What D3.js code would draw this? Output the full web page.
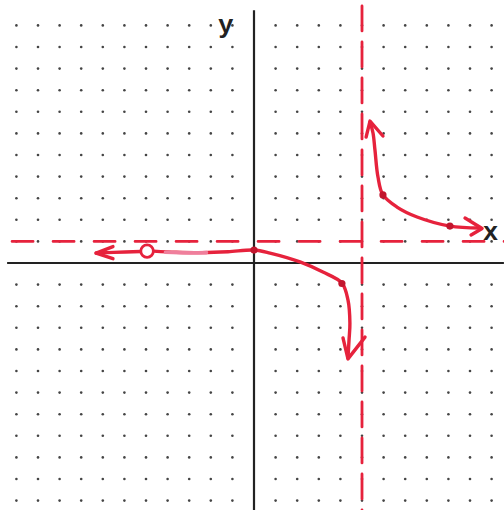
<!DOCTYPE html>
<html>
<head>
<meta charset="utf-8">
<script src="https://cdn.jsdelivr.net/npm/d3@7"></script>
<style>
  html, body { margin: 0; padding: 0; background: #fff; }
  svg { display: block; }
</style>
</head>
<body>
<svg id="chart" width="504" height="510"></svg>
<script>
// Grid extent (integer lattice of dots) and axis extents, in graph units
const gridMin = -11, gridMax = 11;
const xAxisSpan = [-11.43, 11.57];
const yAxisSpan = [-11.45, 11.7];

// Asymptotes
const vAsymptoteX = 5;
const hAsymptoteY = 1;

// Hand-drawn branches of the curve
const leftBranch = [[-7.31, 0.46], [-6.5, 0.49], [-5.25, 0.53]];
const holePoint = [-4.95, 0.55];
const middleBranch = [[-4.65, 0.55], [-3.6, 0.5], [-2.4, 0.48], [-1.2, 0.52], [0, 0.6],
                      [0.74, 0.46], [2.13, 0.05], [3.19, -0.42], [4.07, -0.93],
                      [4.35, -1.71], [4.44, -2.78], [4.4, -3.56], [4.35, -4.4]];
const fadedSegment = [[-4.1, 0.5], [-3.0, 0.47], [-2.2, 0.48]];
const rightBranch = [[5.37, 6.53], [5.51, 6.02], [5.6, 5.23], [5.74, 3.98], [5.97, 3.15],
                     [6.62, 2.59], [7.55, 2.13], [9.07, 1.71], [10.46, 1.62]];

// Plotted points on the curve
const plottedPoints = [[0, 0.6], [4.07, -0.95], [5.97, 3.15], [9.07, 1.71]];

// Open arrowheads: arm, tip, arm
const arrowHeads = [
  [[-6.53, 0.76], [-7.31, 0.46], [-6.53, 0.2]],
  [[4.12, -3.47], [4.35, -4.44], [5.14, -3.43]],
  [[5.19, 5.83], [5.37, 6.57], [5.97, 5.88]],
  [[9.77, 2.08], [10.56, 1.6], [10.05, 1.3]]
];

const axisLabels = [
  { text: "y", at: [-1.3, 10.65] },
  { text: "x", at: [10.95, 1.06] }
];

const svg = d3.select("#chart");
const x = d3.scaleLinear().domain([gridMin, gridMax]).range([16.4, 491.6]);
const y = d3.scaleLinear().domain([gridMin, gridMax]).range([500.6, 25.4]);

const red = "#e6223c";

// Dot grid
const dots = [];
for (let i = gridMin; i <= gridMax; i++) {
  for (let j = gridMin; j <= gridMax; j++) {
    if (i !== 0 && j !== 0) dots.push([i, j]);
  }
}
svg.append("g").selectAll("circle").data(dots).join("circle")
  .attr("cx", d => x(d[0])).attr("cy", d => y(d[1]))
  .attr("r", 1.3).attr("fill", "#444");

// Axes
svg.append("line")
  .attr("x1", x(xAxisSpan[0])).attr("x2", x(xAxisSpan[1]))
  .attr("y1", y(0)).attr("y2", y(0))
  .attr("stroke", "#222").attr("stroke-width", 2.2);
svg.append("line")
  .attr("x1", x(0)).attr("x2", x(0))
  .attr("y1", y(yAxisSpan[1])).attr("y2", y(yAxisSpan[0]))
  .attr("stroke", "#222").attr("stroke-width", 2.2);

// Dashed asymptotes
svg.append("line")
  .attr("x1", x(-11.2)).attr("x2", x(11.6))
  .attr("y1", y(hAsymptoteY)).attr("y2", y(hAsymptoteY))
  .attr("stroke", red).attr("stroke-width", 2.8)
  .attr("stroke-dasharray", "21 20").attr("stroke-linecap", "round");
svg.append("line")
  .attr("x1", x(vAsymptoteX)).attr("x2", x(vAsymptoteX))
  .attr("y1", y(11.9)).attr("y2", y(-11.6))
  .attr("stroke", red).attr("stroke-width", 2.8)
  .attr("stroke-dasharray", "25 11").attr("stroke-linecap", "round");

// Curve branches
const line = d3.line().x(d => x(d[0])).y(d => y(d[1])).curve(d3.curveCatmullRom.alpha(0.5));
const curveG = svg.append("g").attr("fill", "none").attr("stroke", red)
  .attr("stroke-width", 3.4).attr("stroke-linecap", "round").attr("stroke-linejoin", "round");
curveG.append("path").attr("d", line(leftBranch));
curveG.append("path").attr("d", line(middleBranch));
curveG.append("path").attr("d", line(rightBranch));
svg.append("path").attr("d", line(fadedSegment))
  .attr("fill", "none").attr("stroke", "#ef7f9c").attr("stroke-width", 3.6)
  .attr("stroke-linecap", "round");

// Arrowheads
const straight = d3.line().x(d => x(d[0])).y(d => y(d[1]));
curveG.selectAll("path.arrow").data(arrowHeads).join("path")
  .attr("class", "arrow").attr("d", straight);

// Hole
svg.append("circle")
  .attr("cx", x(holePoint[0])).attr("cy", y(holePoint[1]))
  .attr("r", 6.3).attr("fill", "#fff").attr("stroke", red).attr("stroke-width", 2.8);

// Plotted points
svg.append("g").selectAll("circle").data(plottedPoints).join("circle")
  .attr("cx", d => x(d[0])).attr("cy", d => y(d[1]))
  .attr("r", 3.6).attr("fill", "#c2162e");

// Axis labels
svg.append("g").selectAll("text").data(axisLabels).join("text")
  .attr("x", d => x(d.at[0])).attr("y", d => y(d.at[1]))
  .attr("text-anchor", "middle")
  .attr("font-family", "'Liberation Mono', 'DejaVu Sans Mono', monospace")
  .attr("font-weight", "bold").attr("font-size", 26).attr("fill", "#222")
  .text(d => d.text);
</script>
</body>
</html>
